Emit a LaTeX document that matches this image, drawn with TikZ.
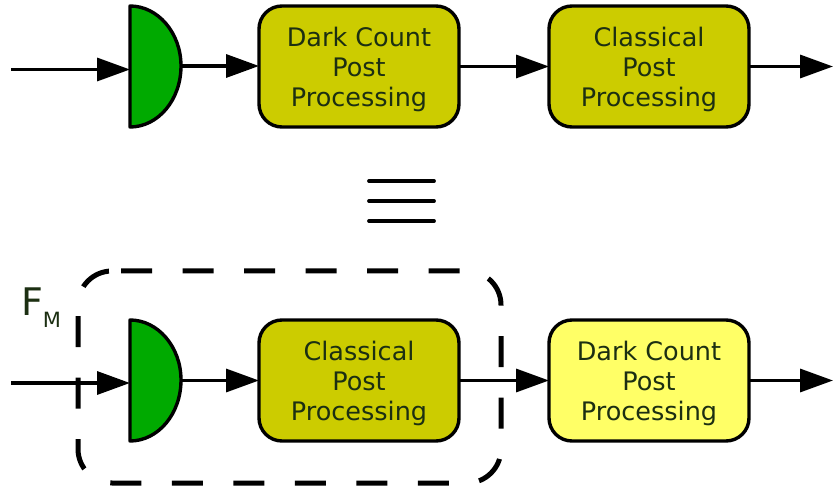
\documentclass[tikz,border=0pt]{standalone}
\usepackage{fontspec}
\setmainfont{DejaVu Sans}
\usepackage{xcolor}
\usetikzlibrary{arrows.meta}

\definecolor{procdark}{HTML}{CCCC00}
\definecolor{proclight}{HTML}{FFFF66}
\definecolor{detgreen}{HTML}{00AA00}
\definecolor{labelink}{HTML}{1C2F12}

\begin{document}
\begin{tikzpicture}[x=1pt,y=-1pt, line join=round]
	\useasboundingbox (0,0) rectangle (833,489);
	
	% ===== styles =====
	\tikzset{
		proc/.style={draw=black, line width=3.4pt, rounded corners=23pt, minimum width=200pt, minimum height=121pt, inner sep=0pt, outer sep=0pt, align=center, text=labelink, font=\fontsize{25.5}{30}\selectfont, text height=85pt},
		det/.style={draw=black, fill=detgreen, line width=3.4pt},
		arr/.style={draw=black, line width=3.4pt, -{Triangle[length=33pt,width=23pt]}},
		eqbar/.style={draw=black, line width=3.8pt, line cap=round}
	}
	
	% ===== top row =====
	\draw[det] (130,6) .. controls (158,6) and (181,33) .. (181,66) .. controls (181,100) and (158,127) .. (130,127) -- cycle;
	\coordinate (inA) at (11,69.5);
	\coordinate (detAin) at (130,69.5);
	\coordinate (detAout) at (181,66);
	\node[proc, fill=procdark] (darkA) at (359,66.5) {Dark Count\\Post\\Processing};
	\node[proc, fill=procdark] (classA) at (649,66.5) {Classical\\Post\\Processing};
	\coordinate (outA) at (833,66.5);
	\draw[arr] (inA) -- (detAin);
	\draw[arr] (detAout) -- (darkA.west |- detAout);
	\draw[arr] (darkA) -- (classA);
	\draw[arr] (classA) -- (outA);
	
	% ===== equivalent sign =====
	\foreach \y in {181,201,221}{
		\draw[eqbar] (369,\y) -- (434,\y);
	}
	
	% ===== bottom row =====
	\draw[det] (130,320) .. controls (158,320) and (181,347) .. (181,380) .. controls (181,414) and (158,441) .. (130,441) -- cycle;
	\coordinate (inB) at (11,383);
	\coordinate (detBin) at (130,383);
	\coordinate (detBout) at (181,380.5);
	\node[proc, fill=procdark] (classB) at (359,380.5) {Classical\\Post\\Processing};
	\node[proc, fill=proclight] (darkB) at (649,380.5) {Dark Count\\Post\\Processing};
	\coordinate (outB) at (833,380.5);
	\draw[arr] (inB) -- (detBin);
	\draw[arr] (detBout) -- (classB.west |- detBout);
	\draw[arr] (classB) -- (darkB);
	\draw[arr] (darkB) -- (outB);
	
	% ===== dashed frame =====
	\draw[black, line width=5pt, dash pattern=on 31pt off 30.5pt, rounded corners=34pt]
		(121,271) -- (501,271) -- (501,483) -- (78,483) -- (78,271) -- (113,271);
	\node[text=labelink, font=\fontsize{38}{38}\selectfont, inner sep=0pt] (fmF) at (32,302) {F};
	\node[text=labelink, font=\fontsize{21}{21}\selectfont, inner sep=0pt] (fmM) at (52,320) {M};
\end{tikzpicture}
\end{document}
